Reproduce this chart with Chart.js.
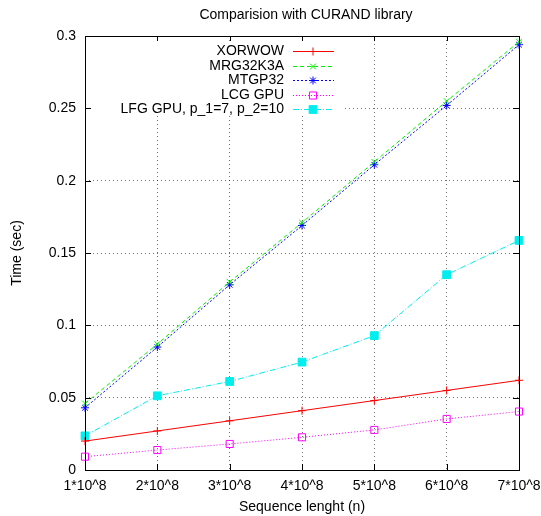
<!DOCTYPE html>
<html>
<head>
<meta charset="utf-8">
<script src="https://cdn.jsdelivr.net/npm/chart.js@4/dist/chart.umd.min.js"></script>
<style>
  html, body { margin: 0; padding: 0; background: #fff; }
  #wrap { width: 541px; height: 516px; }
</style>
</head>
<body>
<div id="wrap"><canvas id="curandChart" width="541" height="516"></canvas></div>
<script>
const labels = ['1*10^8', '2*10^8', '3*10^8', '4*10^8', '5*10^8', '6*10^8', '7*10^8'];
const xorwow = [0.020, 0.027, 0.034, 0.041, 0.048, 0.055, 0.062];
const mrg32k3a = [0.046, 0.087, 0.130, 0.171, 0.213, 0.255, 0.296];
const mtgp32 = [0.043, 0.085, 0.128, 0.169, 0.211, 0.252, 0.294];
const lcgGpu = [0.0092, 0.0138, 0.018, 0.0226, 0.0277, 0.0353, 0.0404];
const lfgGpu = [0.0236, 0.0513, 0.0612, 0.0746, 0.0929, 0.135, 0.1587];
const chartTitle = 'Comparision with CURAND library';

const FONT = "'Liberation Sans', Arial, sans-serif";

// gnuplot-style frame, inward ticks, title over the plot and legend inside it
const gnuplotLook = {
  id: 'gnuplotLook',
  afterDatasetsDraw(chart) {
    const { ctx, chartArea: a, scales } = chart;
    ctx.save();
    // title centred over the plot area
    ctx.font = '14px ' + FONT;
    ctx.fillStyle = '#000';
    ctx.textAlign = 'center';
    ctx.textBaseline = 'middle';
    ctx.fillText(chartTitle, (a.left + a.right) / 2 + 4, 15);

    // white legend box covering the grid
    ctx.fillStyle = '#fff';
    ctx.fillRect(88, 41, 255, 75);

    // frame
    ctx.strokeStyle = '#000';
    ctx.lineWidth = 1;
    ctx.setLineDash([]);
    ctx.strokeRect(Math.round(a.left) + 0.5, Math.round(a.top) + 0.5,
      Math.round(a.right - a.left), Math.round(a.bottom - a.top));

    // inward ticks
    ctx.beginPath();
    scales.y.ticks.forEach((t, i) => {
      const y = Math.round(scales.y.getPixelForTick(i)) + 0.5;
      ctx.moveTo(a.left, y); ctx.lineTo(a.left + 6, y);
      ctx.moveTo(a.right, y); ctx.lineTo(a.right - 6, y);
    });
    scales.x.ticks.forEach((t, i) => {
      const x = Math.round(scales.x.getPixelForTick(i)) + 0.5;
      ctx.moveTo(x, a.bottom); ctx.lineTo(x, a.bottom - 6);
      ctx.moveTo(x, a.top); ctx.lineTo(x, a.top + 5);
    });
    ctx.stroke();

    // legend
    ctx.textAlign = 'right';
    chart.data.datasets.forEach((ds, i) => {
      const y = Math.round(51 + i * 14.5) + 0.5;
      ctx.fillStyle = '#000';
      ctx.fillText(ds.label, 284, y);
      ctx.strokeStyle = ds.borderColor;
      ctx.lineWidth = 1;
      ctx.setLineDash(ds.borderDash || []);
      ctx.beginPath();
      ctx.moveTo(293, y);
      ctx.lineTo(334, y);
      ctx.stroke();
      ctx.setLineDash([]);
      ctx.fillStyle = ds.pointBackgroundColor;
      ctx.strokeStyle = ds.pointBorderColor;
      Chart.helpers.drawPoint(ctx, {
        pointStyle: ds.pointStyle,
        radius: ds.pointRadius,
        rotation: 0,
        borderWidth: 1
      }, 313, y);
    });
    ctx.restore();
  }
};

const series = (label, data, color, dash, style, fill, radius) => ({
  label,
  data,
  borderColor: color,
  backgroundColor: color,
  borderWidth: 1,
  borderDash: dash,
  pointStyle: style,
  pointRadius: radius,
  pointBorderColor: color,
  pointBackgroundColor: fill,
  pointBorderWidth: 1,
  tension: 0,
  fill: false
});

new Chart(document.getElementById('curandChart').getContext('2d'), {
  type: 'line',
  data: {
    labels: labels,
    datasets: [
      series('XORWOW', xorwow, '#ff0000', [], 'cross', '#ff0000', 4),
      series('MRG32K3A', mrg32k3a, '#00ee00', [4, 3], 'crossRot', '#00ee00', 4),
      series('MTGP32', mtgp32, '#0000ff', [2, 2], 'star', '#0000ff', 4),
      series('LCG GPU', lcgGpu, '#ff00ff', [1, 2], 'rect', 'rgba(255,255,255,0)', 5),
      series('LFG GPU, p_1=7, p_2=10', lfgGpu, '#00eeee', [6, 2, 1, 2], 'rect', '#00eeee', 5.5)
    ]
  },
  options: {
    responsive: false,
    animation: false,
    layout: { padding: { left: 0, right: 22, top: 36, bottom: 0 } },
    plugins: {
      legend: { display: false },
      tooltip: { enabled: false },
      title: { display: false }
    },
    scales: {
      x: {
        type: 'category',
        offset: false,
        grid: { color: 'rgba(0,0,0,0.55)', borderDash: [1, 3], drawTicks: false },
        border: { display: false, dash: [1, 3] },
        ticks: { color: '#000', font: { family: FONT, size: 14 }, padding: 8, maxRotation: 0, autoSkip: false },
        title: {
          display: true,
          text: 'Sequence lenght (n)',
          color: '#000',
          font: { family: FONT, size: 14 },
          padding: { top: 3, bottom: 0 }
        },
        afterFit(scale) {
          scale.height = 46;
          scale.paddingLeft = 0;
          scale.paddingRight = 0;
        }
      },
      y: {
        min: 0,
        max: 0.3,
        grid: { color: 'rgba(0,0,0,0.55)', borderDash: [1, 3], drawTicks: false },
        border: { display: false, dash: [1, 3] },
        ticks: {
          stepSize: 0.05,
          color: '#000',
          font: { family: FONT, size: 14 },
          padding: 9,
          callback: v => String(Number(v.toFixed(2)))
        },
        title: {
          display: true,
          text: 'Time (sec)',
          color: '#000',
          font: { family: FONT, size: 14 },
          padding: { top: 9, bottom: 0 }
        },
        afterFit(scale) {
          scale.width = 85;
          scale.paddingTop = 0;
          scale.paddingBottom = 0;
        }
      }
    }
  },
  plugins: [gnuplotLook]
});
</script>
</body>
</html>
